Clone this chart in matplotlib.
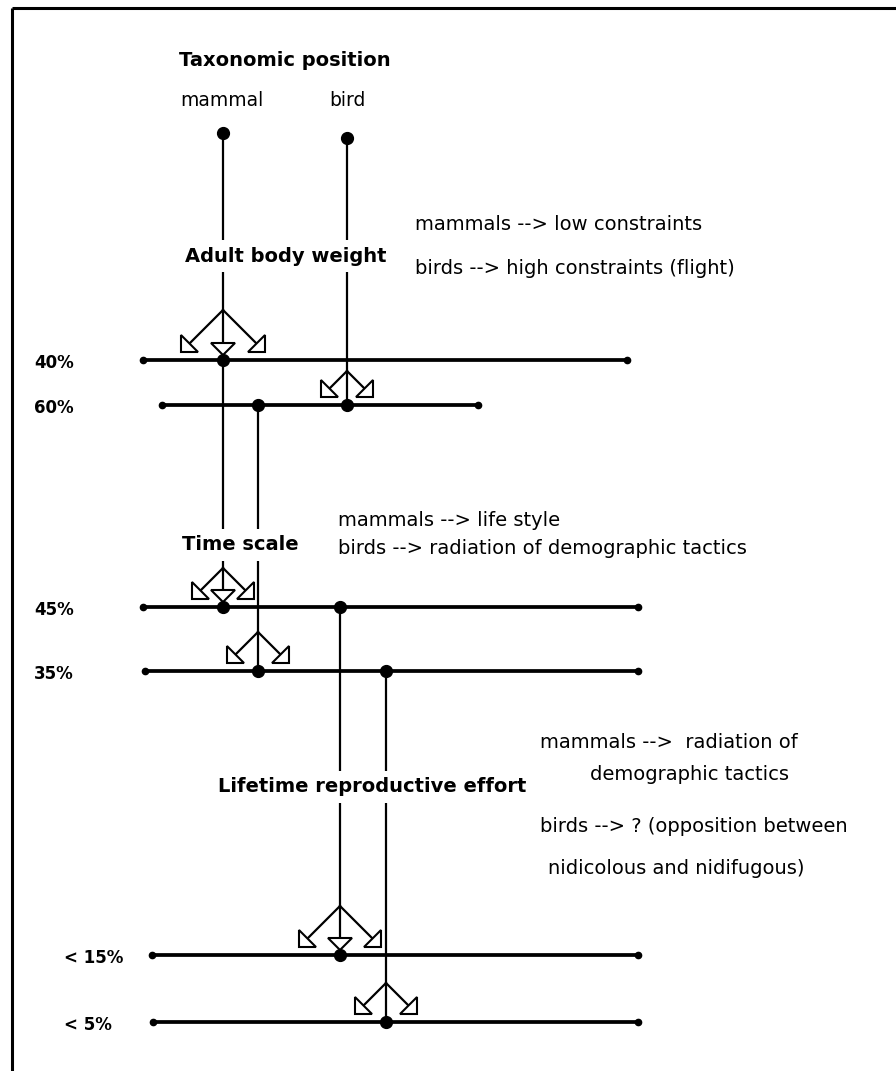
import matplotlib
matplotlib.use("Agg")
import matplotlib.pyplot as plt
from matplotlib.patches import Polygon
import numpy as np

# ---------------- data ----------------
taxa = ["mammal", "bird"]
taxa_x = [222, 347]
taxa_top_y = [133, 138]

level_labels = ["40%", "60%", "45%", "35%", "< 15%", "< 5%"]
level_y = [360, 405, 607, 671, 955, 1022]
level_x0 = [143, 162, 143, 145, 152, 153]
level_x1 = [627, 478, 638, 638, 638, 638]
level_label_x = [34, 34, 34, 34, 64, 64]

# stems: x position, origin (taxon index or level index), target level
stem_x = [223, 347, 223, 258, 340, 386]
stem_origin = [("top", 0), ("top", 1), ("lvl", 0), ("lvl", 1), ("lvl", 2), ("lvl", 3)]
stem_target = [0, 1, 2, 3, 4, 5]
arrow_len = [42, 26, 31, 31, 41, 31]
has_down = [True, False, True, False, True, False]

headers = ["Taxonomic position", "Adult body weight", "Time scale",
           "Lifetime reproductive effort"]
header_xy = [(285, 60), (286, 256), (240, 545), (372, 787)]

notes = ["mammals --> low constraints",
         "birds --> high constraints (flight)",
         "mammals --> life style",
         "birds --> radiation of demographic tactics",
         "mammals -->  radiation of",
         "demographic tactics",
         "birds --> ? (opposition between",
         "nidicolous and nidifugous)"]
note_xy = [(415, 225), (415, 268), (338, 521), (338, 548),
           (540, 743), (590, 775), (540, 827), (548, 868)]

# ---------------- drawing ----------------
W, H = 896, 1071
fig = plt.figure(figsize=(W / 100, H / 100), dpi=100)
ax = fig.add_axes([0, 0, 1, 1])
ax.set_xlim(0, W)
ax.set_ylim(H, 0)
ax.axis("off")

# border (top and left visible)
ax.plot([12, W], [8, 8], color="black", lw=2.2, solid_capstyle="butt")
ax.plot([12, 12], [8, H], color="black", lw=2.2, solid_capstyle="butt")

NORMAL = dict(family="DejaVu Sans", fontsize=14, color="black")
BOLD = dict(family="DejaVu Sans", fontsize=14, fontweight="bold", color="black")

# level lines
for lab, y, x0, x1, lx in zip(level_labels, level_y, level_x0, level_x1, level_label_x):
    ax.plot([x0, x1], [y, y], color="black", lw=2.7, solid_capstyle="butt", zorder=3)
    ax.plot([x0, x1], [y, y], "o", color="black", ms=4.5, zorder=3)
    ax.text(lx, y + 3, lab, ha="left", va="center",
            **dict(BOLD, fontsize=12))

HEAD = 12.0   # arrow head length (px), 90 deg apex


def head(tip, d):
    d = np.asarray(d, float)
    d = d / np.linalg.norm(d)
    n = np.array([-d[1], d[0]])
    tip = np.asarray(tip, float)
    base = tip - HEAD * d
    pts = [tip, base + HEAD * n, base - HEAD * n]
    ax.add_patch(Polygon(pts, closed=True, facecolor="white", edgecolor="black",
                         lw=1.5, zorder=5, joinstyle="miter"))
    return base


dots = set()
for x, org, tgt, L, dn in zip(stem_x, stem_origin, stem_target, arrow_len, has_down):
    if org[0] == "top":
        y0 = taxa_top_y[org[1]]
    else:
        y0 = level_y[org[1]]
    yl = level_y[tgt]
    gap = 8
    tip_y = yl - gap
    by = tip_y - L
    # stem
    if dn:
        b = head((x, yl - 5), (0, 1))
        ax.plot([x, x], [y0, b[1]], color="black", lw=1.6, zorder=2)
    else:
        ax.plot([x, x], [y0, yl], color="black", lw=1.6, zorder=2)
    # diagonal arrows
    for s in (-1, 1):
        tip = (x + s * L, tip_y)
        b = head(tip, (s, 1))
        ax.plot([x, b[0]], [by, b[1]], color="black", lw=1.6, zorder=2)
    dots.add((x, y0))
    dots.add((x, yl))

for (x, y) in dots:
    ax.plot(x, y, "o", color="black", ms=8.5, zorder=6)

# taxon labels
for t, x in zip(taxa, taxa_x):
    ax.text(x, 100, t, ha="center", va="center", **dict(NORMAL, fontsize=13.5))

# headers with white background (breaks the lines)
for h, (x, y) in zip(headers, header_xy):
    ax.text(x, y, h, ha="center", va="center", zorder=8,
            bbox=dict(boxstyle="square,pad=0.35", facecolor="white", edgecolor="none"),
            **BOLD)

for t, (x, y) in zip(notes, note_xy):
    ax.text(x, y, t, ha="left", va="center", **NORMAL)

fig.savefig("out.png", dpi=100)
